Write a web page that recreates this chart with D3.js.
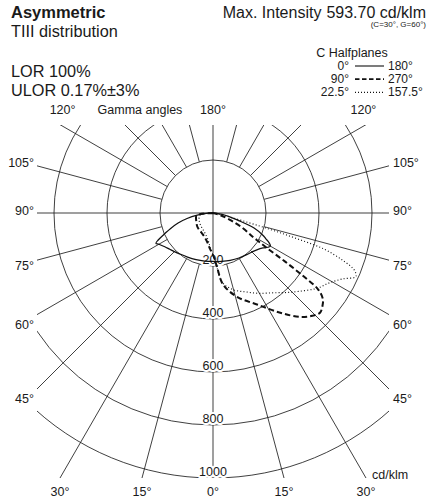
<!DOCTYPE html>
<html><head><meta charset="utf-8">
<script src="https://cdn.jsdelivr.net/npm/d3@7"></script>
<style>
body{margin:0;background:#fff;}
svg text{font-family:"Liberation Sans",Arial,sans-serif;fill:#1a1a1a;}
</style></head><body>
<svg id="chart" width="428" height="502"></svg>
<script>
// ---- data ----
const gridIntensities = [200, 400, 600, 800, 1000];
const intensityLabels = ["200", "400", "600", "800", "1000"];
const sideGammaLabels = [105, 90, 75, 60, 45];
const topGammaLabels = [120, 180];
const bottomGammaLabels = [30, 15, 0];
const gammaSpokes = [15, 30, 45, 60, 75, 105, 120, 135, 150, 165];

// C0 - C180 (solid)
const gammaC180 = [0, 10, 20, 30, 40, 45, 50, 55, 60, 62, 64, 67, 70, 74, 78, 82, 86, 90];
const intensityC180 = [183, 184, 187, 192, 200, 206, 213, 222, 236, 244, 228, 196, 170, 137, 100, 60, 25, 0];
const gammaC0 = [0, 10, 20, 30, 40, 45, 50, 55, 58, 60, 62, 64, 66, 70, 74, 78, 82, 86, 90];
const intensityC0 = [183, 185, 190, 196, 203, 208, 216, 230, 244, 250, 240, 222, 206, 165, 95, 60, 35, 15, 0];
// C90 - C270 (dashed)
const gammaC270 = [0, 5, 10, 20, 30, 40, 50, 60, 70, 80, 85, 90];
const intensityC270 = [158, 135, 115, 95, 86, 82, 78, 72, 68, 64, 50, 0];
const gammaC90 = [0, 4, 8, 16, 26, 34, 40, 44, 47, 50, 52, 54, 55, 56, 57, 58, 59, 63, 68, 74, 80, 90];
const intensityC90 = [158, 200, 272, 329, 385, 454, 512, 539, 552, 540, 526, 490, 420, 330, 240, 205, 176, 127, 69, 27, 5, 0];
// C22.5 - C157.5 (dotted)
const gammaC157 = [0, 5, 10, 20, 30, 40, 50, 60, 70, 80, 85, 90];
const intensityC157 = [158, 128, 105, 84, 74, 68, 64, 60, 56, 50, 40, 0];
const gammaC22 = [0, 4, 8, 15, 23, 30, 37, 43, 48, 54, 59, 63, 66, 68, 70, 72, 73, 74, 76, 80, 90];
const intensityC22 = [158, 205, 267, 300, 324, 350, 377, 410, 441, 484, 512, 548, 590, 575, 520, 440, 330, 220, 80, 15, 0];

const legendRows = [
  {left: "0°", right: "180°", dash: null, w: 1.1},
  {left: "90°", right: "270°", dash: "4.5,2.5", w: 1.8},
  {left: "22.5°", right: "157.5°", dash: "1,2", w: 1.1}
];

// ---- layout ----
const svg = d3.select("#chart");
const cx = 213, cy = 213;
const r = d3.scaleLinear().domain([0, 1000]).range([0, 265]);
const clip = {x0: cx - 176, x1: cx + 176, y0: cy - 88, y1: cy + r(1000)};
const rad = d => d * Math.PI / 180;
const pt = (g, side, v) => [cx + side * r(v) * Math.sin(rad(g)), cy + r(v) * Math.cos(rad(g))];

svg.append("defs").append("clipPath").attr("id", "gclip").append("rect")
  .attr("x", clip.x0).attr("y", clip.y0).attr("width", clip.x1 - clip.x0).attr("height", clip.y1 - clip.y0);

const grid = svg.append("g").attr("clip-path", "url(#gclip)")
  .attr("fill", "none").attr("stroke", "#1e1e1e").attr("stroke-width", 0.85);
gridIntensities.forEach(v => grid.append("circle").attr("cx", cx).attr("cy", cy).attr("r", r(v)));
gammaSpokes.forEach(g => [-1, 1].forEach(s => {
  const a = pt(g, s, 200), b = pt(g, s, 1500);
  grid.append("line").attr("x1", a[0]).attr("y1", a[1]).attr("x2", b[0]).attr("y2", b[1]);
}));
// full axes through centre
grid.append("line").attr("x1", cx).attr("x2", cx).attr("y1", clip.y0).attr("y2", clip.y1);
grid.append("line").attr("y1", cy).attr("y2", cy).attr("x1", clip.x0).attr("x2", clip.x1);

// ---- labels ----
const fs = 12.5;
const lab = svg.append("g").attr("font-size", fs);
const sideShift = {105: 1, 90: -2.5, 75: 1.5, 60: 1, 45: -6};
sideGammaLabels.forEach(g => {
  const dy = 192 / Math.tan(rad(g));
  const y = cy + dy + sideShift[g];
  lab.append("text").attr("x", clip.x0 - 3).attr("y", y).attr("dy", "0.35em").attr("text-anchor", "end").text(g + "°");
  lab.append("text").attr("x", clip.x1 + 4).attr("y", y).attr("dy", "0.35em").attr("text-anchor", "start").text(g + "°");
});
topGammaLabels.forEach(g => {
  const dx = (clip.y0 - cy) * Math.tan(rad(g));
  const sides = g === 180 ? [1] : [-1, 1];
  sides.forEach(s => {
    lab.append("text").attr("x", cx + s * Math.abs(dx) + (g === 180 ? 0 : s * -2)).attr("y", clip.y0 - 15).attr("dy", "0.35em")
      .attr("text-anchor", "middle").text(g + "°");
  });
});
lab.append("text").attr("x", cx - 73).attr("y", clip.y0 - 15).attr("dy", "0.35em").attr("text-anchor", "middle").text("Gamma angles");
bottomGammaLabels.forEach(g => {
  const dx = r(1000) * Math.tan(rad(g));
  const sides = g === 0 ? [1] : [-1, 1];
  sides.forEach(s => lab.append("text").attr("x", cx + s * dx).attr("y", clip.y1 + 18).attr("text-anchor", "middle").text(g + "°"));
});
lab.append("text").attr("x", cx + r(1000) * Math.tan(rad(30)) + 6).attr("y", clip.y1 + 1).text("cd/klm");

gridIntensities.forEach((v, i) => {
  lab.append("text").attr("x", cx).attr("y", cy + r(v) - 2.5).attr("text-anchor", "middle")
    .attr("stroke", "#fff").attr("stroke-width", 4).attr("paint-order", "stroke").attr("stroke-linejoin", "round")
    .text(intensityLabels[i]);
});

// ---- curves ----
const line = d3.line().curve(d3.curveCatmullRom.alpha(0.5));
function curvePoints(gL, iL, gR, iR) {
  const left = gL.map((g, k) => pt(g, -1, iL[k])).reverse();
  const right = gR.map((g, k) => pt(g, 1, iR[k]));
  return left.concat(right.slice(1));
}
const curves = svg.append("g").attr("fill", "none").attr("stroke", "#111");
curves.append("path").attr("d", line(curvePoints(gammaC180, intensityC180, gammaC0, intensityC0)))
  .attr("stroke-width", 1.25);
curves.append("path").attr("d", line(curvePoints(gammaC270, intensityC270, gammaC90, intensityC90)))
  .attr("stroke-width", 2).attr("stroke-dasharray", "5.5,3");
curves.append("path").attr("d", line(curvePoints(gammaC157, intensityC157, gammaC22, intensityC22)))
  .attr("stroke-width", 1.15).attr("stroke-dasharray", "1,2.2");

// ---- header texts ----
const head = svg.append("g");
head.append("text").attr("x", 11).attr("y", 18).attr("font-size", 16.5).attr("font-weight", "bold").text("Asymmetric");
head.append("text").attr("x", 11).attr("y", 37).attr("font-size", 16.3).text("TIII distribution");
head.append("text").attr("x", 11).attr("y", 77).attr("font-size", 16.3).text("LOR 100%");
head.append("text").attr("x", 11).attr("y", 96).attr("font-size", 16.3).text("ULOR 0.17%±3%");

const mi = head.append("text").attr("x", 426).attr("y", 18).attr("font-size", 16).attr("text-anchor", "end");
mi.append("tspan").text("Max. Intensity");
mi.append("tspan").attr("dx", 5).text("593.70 cd/klm");
head.append("text").attr("x", 426).attr("y", 27).attr("font-size", 8).attr("text-anchor", "end").text("(C=30°, G=60°)");

const lfs = 12;
head.append("text").attr("x", 352).attr("y", 56.5).attr("font-size", lfs + 0.5).attr("text-anchor", "middle").text("C Halfplanes");
legendRows.forEach((row, i) => {
  const y = 70 + i * 13.2;
  head.append("text").attr("x", 349).attr("y", y).attr("font-size", lfs).attr("text-anchor", "end").text(row.left);
  head.append("text").attr("x", 388).attr("y", y).attr("font-size", lfs).text(row.right);
  const l = head.append("line").attr("x1", 355).attr("x2", 384).attr("y1", y - 4).attr("y2", y - 4)
    .attr("stroke", "#111").attr("stroke-width", row.w);
  if (row.dash) l.attr("stroke-dasharray", row.dash);
});
</script>
</body></html>
